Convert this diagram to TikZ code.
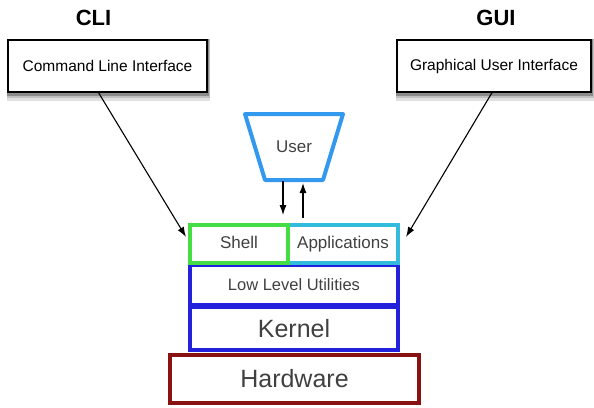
\documentclass[tikz,border=0pt]{standalone}
\usepackage{fontspec}
\setmainfont{Liberation Sans}
\usetikzlibrary{arrows.meta,backgrounds}
\definecolor{userblue}{HTML}{3399EE}
\definecolor{shellgreen}{HTML}{44DD44}
\definecolor{appcyan}{HTML}{33BBDD}
\definecolor{layerblue}{HTML}{2222DD}
\definecolor{hwred}{HTML}{881111}
\definecolor{txtgray}{HTML}{404040}
\tikzset{
    ifbox/.style={draw, line width=1.2pt, fill=white, minimum width=#1, minimum height=52pt,
        font=\fontsize{15.5}{18}\selectfont},
    title/.style={font=\fontsize{22}{26}\selectfont\bfseries},
    layer/.style={draw=#1, line width=4pt, text=txtgray, inner sep=0pt},
    flow/.style={-{Latex[length=10pt,width=7pt]}, line width=1.1pt}
}
\begin{document}
\begin{tikzpicture}[x=1pt, y=-1pt]
        \useasboundingbox (0,0) rectangle (594,407);
        \node[title] (clititle) at (93.5,18) {CLI};
        \node[title] (guititle) at (496,18) {GUI};
        \node[ifbox=199pt] (cli) at (107.5,66) {Command Line Interface};
        \node[ifbox=194pt] (gui) at (494,66) {Graphical User Interface};
        % soft shadow under the two interface boxes
        \begin{scope}[on background layer]
            \fill[black!12] ([yshift=-8pt]cli.south west) rectangle ([xshift=2pt]cli.north east);
            \fill[black!25] ([yshift=-5pt]cli.south west) rectangle ([xshift=2pt]cli.north east);
            \fill[black!45] ([yshift=-3pt]cli.south west) rectangle ([xshift=1pt]cli.north east);
            \fill[black!12] ([yshift=-8pt]gui.south west) rectangle ([xshift=2pt]gui.north east);
            \fill[black!25] ([yshift=-5pt]gui.south west) rectangle ([xshift=2pt]gui.north east);
            \fill[black!45] ([yshift=-3pt]gui.south west) rectangle ([xshift=1pt]gui.north east);
        \end{scope}
        % user: trapezium drawn around a plain node
        \node[text=txtgray, minimum width=58pt, minimum height=66pt, outer sep=0pt,
            font=\fontsize{17}{20}\selectfont] (user) at (294,147) {User};
        \draw[userblue, line width=4pt, line join=round]
            ([xshift=-20pt]user.north west) -- ([xshift=20pt]user.north east)
            -- (user.south east) -- (user.south west) -- cycle;
        \node[layer=hwred, minimum width=249pt, minimum height=48pt,
            font=\fontsize{25}{30}\selectfont] (hardware) at (294.5,379) {Hardware};
        \node[layer=layerblue, minimum width=208pt, minimum height=43pt,
            font=\fontsize{25}{30}\selectfont] (kernel) at (294,328.5) {Kernel};
        \node[layer=layerblue, minimum width=208pt, minimum height=40pt,
            font=\fontsize{16.5}{20}\selectfont] (utils) at (294,285) {Low Level Utilities};
        \node[layer=appcyan, minimum width=110pt, minimum height=38pt, text height=12.5pt, text depth=3.5pt,
            font=\fontsize{17}{20}\selectfont] (apps) at (343,244) {Applications};
        \node[layer=shellgreen, minimum width=98pt, minimum height=38pt, text height=12.5pt, text depth=3.5pt,
            font=\fontsize{17}{20}\selectfont] (shell) at (239,244) {Shell};
        \draw[flow] ([xshift=-9pt]cli.south) -- ([shift={(-2pt,7pt)}]shell.west);
        \draw[flow] ([xshift=-2pt]gui.south) -- ([shift={(6pt,7pt)}]apps.east);
        \draw[flow] ([shift={(-11pt,-1pt)}]user.south) -- ([shift={(44pt,8pt)}]shell.north);
        \draw[flow] ([shift={(-40pt,5pt)}]apps.north) -- ([shift={(9pt,-3pt)}]user.south);
    \end{tikzpicture}
\end{document}
